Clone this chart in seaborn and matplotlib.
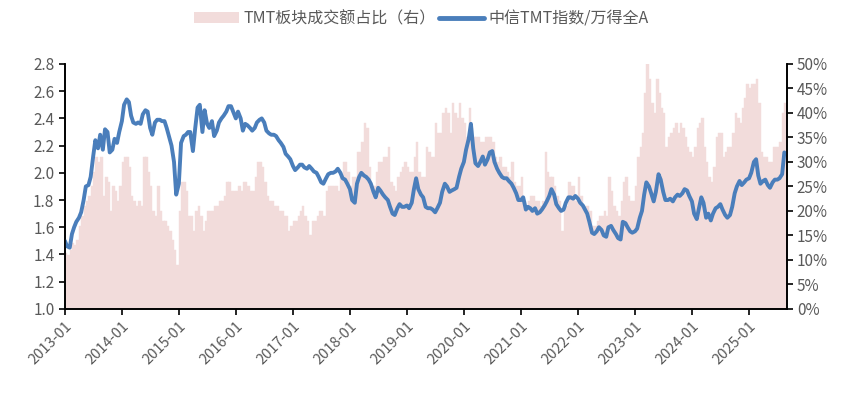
import numpy as np
import pandas as pd
import matplotlib
matplotlib.use("Agg")
import matplotlib.pyplot as plt
import matplotlib.dates as mdates
import matplotlib.ticker as ticker
from matplotlib.patches import Patch
from matplotlib.lines import Line2D
import seaborn as sns

# semi-monthly samples, starting 2013-01
start_date = "2013-01-01"

# 中信TMT指数/万得全A (left axis)
ratio = [
    # 2013
    1.50, 1.46, 1.45, 1.55, 1.60, 1.64, 1.67, 1.71, 1.80, 1.90, 1.91, 1.97,
    2.12, 2.24, 2.18, 2.28, 2.17, 2.32, 2.30, 2.15, 2.17, 2.25, 2.22, 2.30,
    # 2014
    2.38, 2.50, 2.54, 2.52, 2.42, 2.37, 2.36, 2.37, 2.36, 2.43, 2.46, 2.45,
    2.33, 2.28, 2.37, 2.39, 2.39, 2.38, 2.38, 2.33, 2.26, 2.20, 2.08, 1.84,
    # 2015
    1.92, 2.22, 2.27, 2.28, 2.30, 2.30, 2.16, 2.32, 2.48, 2.50, 2.30, 2.46,
    2.36, 2.33, 2.38, 2.27, 2.31, 2.37, 2.40, 2.42, 2.45, 2.49, 2.49, 2.45,
    # 2016
    2.40, 2.45, 2.40, 2.31, 2.36, 2.35, 2.33, 2.31, 2.33, 2.37, 2.39, 2.40,
    2.37, 2.31, 2.29, 2.28, 2.28, 2.27, 2.24, 2.22, 2.19, 2.14, 2.12, 2.10,
    # 2017
    2.05, 2.02, 2.04, 2.06, 2.06, 2.04, 2.03, 2.05, 2.03, 2.01, 2.00, 1.97,
    1.93, 1.92, 1.96, 1.99, 2.00, 2.00, 2.01, 2.03, 2.00, 1.96, 1.95, 1.92,
    # 2018
    1.88, 1.80, 1.78, 1.92, 1.97, 2.00, 1.98, 1.97, 1.95, 1.92, 1.86, 1.82,
    1.89, 1.87, 1.84, 1.82, 1.80, 1.75, 1.70, 1.69, 1.74, 1.77, 1.75, 1.75,
    # 2019
    1.76, 1.74, 1.78, 1.88, 1.96, 1.88, 1.84, 1.82, 1.75, 1.74, 1.74, 1.73,
    1.71, 1.74, 1.78, 1.86, 1.92, 1.90, 1.86, 1.87, 1.88, 1.89, 1.97, 2.03,
    # 2020
    2.08, 2.17, 2.25, 2.36, 2.18, 2.07, 2.05, 2.08, 2.12, 2.06, 2.10, 2.15,
    2.16, 2.08, 2.03, 2.00, 1.97, 1.96, 1.96, 1.94, 1.92, 1.89, 1.85, 1.80,
    # 2021
    1.80, 1.82, 1.73, 1.75, 1.74, 1.72, 1.74, 1.70, 1.71, 1.73, 1.76, 1.79,
    1.83, 1.88, 1.84, 1.77, 1.74, 1.72, 1.73, 1.78, 1.82, 1.82, 1.81, 1.83,
    # 2022
    1.81, 1.78, 1.76, 1.73, 1.70, 1.64, 1.56, 1.55, 1.57, 1.60, 1.58, 1.54,
    1.53, 1.60, 1.61, 1.58, 1.55, 1.52, 1.51, 1.64, 1.63, 1.60, 1.57, 1.56,
    # 2023
    1.57, 1.59, 1.67, 1.72, 1.84, 1.93, 1.90, 1.85, 1.79, 1.86, 1.99, 1.95,
    1.86, 1.80, 1.80, 1.81, 1.79, 1.82, 1.84, 1.83, 1.85, 1.88, 1.87, 1.83,
    # 2024
    1.79, 1.70, 1.66, 1.74, 1.82, 1.78, 1.67, 1.70, 1.65, 1.70, 1.74, 1.75,
    1.77, 1.73, 1.69, 1.67, 1.69, 1.75, 1.85, 1.90, 1.94, 1.91, 1.93, 1.95,
    # 2025
    1.96, 2.00, 2.08, 2.10, 1.98, 1.92, 1.94, 1.95, 1.91, 1.89, 1.93, 1.95,
    1.95, 1.96, 1.99, 2.15,
]

# TMT板块成交额占比 (right axis, %)
share = [
    # 2013
    11.5, 11, 12, 13.5, 13, 14, 17, 19, 21, 22, 23, 25,
    28, 31, 30, 31, 23, 27, 26, 20, 25, 24, 22, 25,
    # 2014
    30, 31, 31, 29, 23, 22, 21, 22, 21, 31, 31, 28,
    25, 20, 19, 25, 20, 18, 18, 17, 16, 14, 12, 9,
    # 2015
    20, 26, 26, 24, 19, 19, 16, 20, 21, 19, 16, 18,
    20, 20, 20, 21, 21, 22, 22, 23, 26, 26, 24, 24,
    # 2016
    24, 25, 24, 26, 26, 25, 24, 24, 27, 30, 30, 29,
    26, 23, 22, 22, 21, 21, 20, 20, 19, 19, 16, 17,
    # 2017
    18, 18, 19, 20, 21, 19, 18, 15, 18, 18, 19, 20,
    20, 19, 24, 25, 25, 25, 25, 24, 27, 30, 30, 28,
    # 2018
    25, 27, 27, 32, 32, 34, 38, 37, 29, 25, 25, 28,
    30, 30, 31, 31, 33, 26, 25, 24, 27, 28, 29, 30,
    # 2019
    29, 28, 28, 31, 34, 28, 27, 27, 33, 32, 31, 31,
    38, 36, 36, 40, 41, 40, 36, 42, 40, 39, 42, 39,
    # 2020
    38, 35, 41, 37, 35, 35, 35, 34, 34, 35, 35, 35,
    34, 31, 30, 31, 29, 29, 28, 27, 30, 26, 25, 25,
    # 2021
    27, 22, 21, 22, 23, 23, 22, 22, 21, 22, 32, 28,
    27, 27, 25, 23, 22, 16, 20, 21, 26, 25, 25, 22,
    # 2022
    27, 23, 21, 21, 21, 20, 17, 17, 18, 19, 19, 20,
    19, 27, 24, 21, 20, 19, 22, 26, 27, 23, 22, 22,
    # 2023
    25, 31, 33, 36, 44, 50, 47, 42, 40, 47, 44, 41,
    40, 33, 35, 36, 37, 38, 36, 38, 37, 35, 33, 32,
    # 2024
    31, 33, 37, 38, 39, 33, 30, 27, 26, 29, 35, 36,
    36, 31, 32, 33, 33, 36, 40, 39, 38, 41, 43, 46,
    # 2025
    45, 46, 46, 47, 42, 32, 31, 31, 30, 30, 33, 33,
    33, 34, 40, 42,
]

line_label = "中信TMT指数/万得全A"
bar_label = "TMT板块成交额占比（右）"

dates = pd.date_range(start_date, periods=len(ratio), freq="SMS")
df = pd.DataFrame({"date": dates, "ratio": ratio, "share": share})

sns.set_theme(style="ticks")
plt.rcParams["font.family"] = ["Noto Sans CJK SC", "DejaVu Sans"]
plt.rcParams["axes.unicode_minus"] = False

fig = plt.figure(figsize=(8.43, 3.95), dpi=100)
ax = fig.add_axes([0.077, 0.218, 0.856, 0.620])
ax2 = ax.twinx()

bar_color = "#f2dcdb"
line_color = "#4a7ebb"
grey = "#595959"

# each bar spans until the next sample so the area is gap-free
x_end = dates[-1] + pd.Timedelta(days=14)
edges = list(dates[1:]) + [x_end]
widths = [(e - d).days + 0.5 for d, e in zip(dates, edges)]

# bars on the base axes (drawn behind), shown on the right side
ax.bar(df["date"], df["share"], width=widths, align="edge", color=bar_color,
       edgecolor=bar_color, linewidth=0.3)
ax.set_ylim(0, 50)
ax.yaxis.set_major_locator(ticker.MultipleLocator(5))
ax.yaxis.set_major_formatter(ticker.FuncFormatter(lambda v, p: f"{v:.0f}%"))
ax.yaxis.tick_right()

# line on twin axes, shown on the left side
sns.lineplot(data=df, x="date", y="ratio", ax=ax2, color=line_color, linewidth=2.8)
ax2.set_ylim(1.0, 2.8)
ax2.yaxis.set_major_locator(ticker.MultipleLocator(0.2))
ax2.yaxis.set_major_formatter(ticker.FormatStrFormatter("%.1f"))
ax2.yaxis.tick_left()

ax.set_xlim(dates[0], x_end)
ax.xaxis.set_major_locator(mdates.YearLocator())
ax.xaxis.set_major_formatter(mdates.DateFormatter("%Y-%m"))

for a in (ax, ax2):
    a.set_xlabel("")
    a.set_ylabel("")
    a.spines["top"].set_visible(False)
    for s in ("left", "right", "bottom"):
        a.spines[s].set_color("black")
        a.spines[s].set_linewidth(1.2)
    a.tick_params(axis="both", colors="black", labelcolor=grey, labelsize=11,
                  length=4, width=1.2, direction="out")

ax.tick_params(axis="x", labelsize=10.5)
for lbl in ax.get_xticklabels():
    lbl.set_rotation(45)
    lbl.set_ha("right")
    lbl.set_rotation_mode("anchor")

handles = [Patch(facecolor=bar_color, edgecolor="none"),
           Line2D([0], [0], color=line_color, lw=3.5)]
fig.legend(handles, [bar_label, line_label], loc="upper center",
           bbox_to_anchor=(0.5, 1.01), ncol=2, frameon=False, fontsize=11.5,
           handlelength=2.8, handletextpad=0.3, columnspacing=0.2,
           labelcolor=grey)

fig.savefig("out.png", dpi=100)
